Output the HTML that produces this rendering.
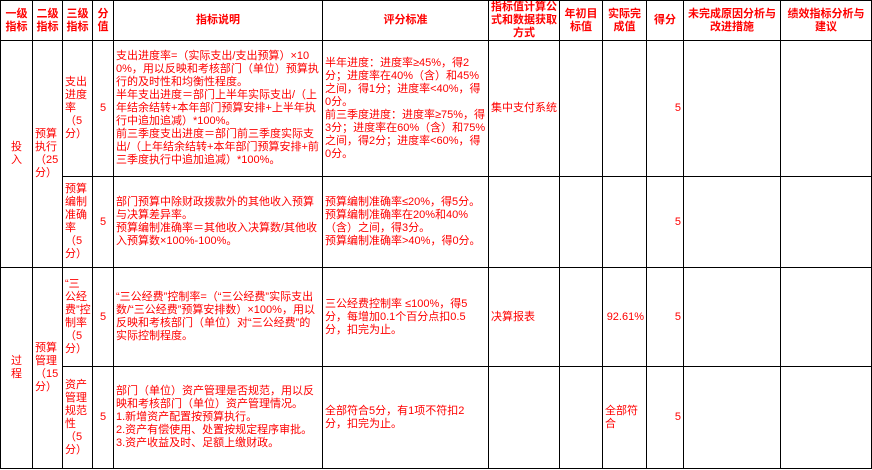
<!DOCTYPE html>
<html><head><meta charset="utf-8"><style>
body{margin:0;background:#fff;}
table{position:absolute;left:0;top:0;border-collapse:collapse;table-layout:fixed;width:871px;}
td{border:1.5px solid #000;padding:0 2px;color:#f00;font-family:"Liberation Sans","Noto Sans CJK SC",sans-serif;font-size:11px;line-height:13px;vertical-align:middle;overflow:hidden;word-break:break-all;}
tr.h td{font-weight:bold;text-align:center;font-size:11px;line-height:13px;}
.c{text-align:center}.r{text-align:right}
.n{width:12px;margin:0 auto;}
</style></head><body>
<table>
<colgroup><col style="width:32px"><col style="width:30px"><col style="width:30px"><col style="width:21px"><col style="width:209px"><col style="width:166px"><col style="width:71px"><col style="width:43px"><col style="width:44px"><col style="width:37px"><col style="width:97px"><col style="width:91px"></colgroup>
<tr class="h" style="height:40px"><td>一级指标</td><td>二级指标</td><td>三级指标</td><td>分值</td><td>指标说明</td><td>评分标准</td><td>指标值计算公式和数据获取方式</td><td>年初目标值</td><td>实际完成值</td><td>得分</td><td>未完成原因分析与改进措施</td><td>绩效指标分析与建议</td></tr>
<tr style="height:136px"><td class="c" rowspan="2"><div class="n">投入</div></td><td rowspan="2">预算执行（25分）</td><td>支出进度率（5分）</td><td class="c">5</td><td>支出进度率=（实际支出/支出预算）×100%，用以反映和考核部门（单位）预算执行的及时性和均衡性程度。<br>半年支出进度＝部门上半年实际支出/（上年结余结转+本年部门预算安排+上半年执行中追加追减）*100%。<br>前三季度支出进度＝部门前三季度实际支出/（上年结余结转+本年部门预算安排+前三季度执行中追加追减）*100%。</td><td>半年进度：进度率≥45%，得2分；进度率在40%（含）和45%之间，得1分；进度率&lt;40%，得0分。<br>前三季度进度：进度率≥75%，得3分；进度率在60%（含）和75%之间，得2分；进度率&lt;60%，得0分。</td><td>集中支付系统</td><td></td><td></td><td class="r">5</td><td></td><td></td></tr>
<tr style="height:91px"><td>预算编制准确率（5分）</td><td class="c">5</td><td>部门预算中除财政拨款外的其他收入预算与决算差异率。<br>预算编制准确率＝其他收入决算数/其他收入预算数×100%-100%。</td><td>预算编制准确率≤20%，得5分。<br>预算编制准确率在20%和40%（含）之间，得3分。<br>预算编制准确率&gt;40%，得0分。</td><td></td><td></td><td></td><td class="r">5</td><td></td><td></td></tr>
<tr style="height:99px"><td class="c" rowspan="2"><div class="n">过程</div></td><td rowspan="2">预算管理（15分）</td><td>“三公经费”控制率（5分）</td><td class="c">5</td><td>“三公经费”控制率=（“三公经费”实际支出数/“三公经费”预算安排数）×100%，用以反映和考核部门（单位）对“三公经费”的实际控制程度。</td><td>三公经费控制率 ≤100%，得5分，每增加0.1个百分点扣0.5分，扣完为止。</td><td>决算报表</td><td></td><td class="r">92.61%</td><td class="r">5</td><td></td><td></td></tr>
<tr style="height:102px"><td>资产管理规范性（5分）</td><td class="c">5</td><td>部门（单位）资产管理是否规范，用以反映和考核部门（单位）资产管理情况。<br>1.新增资产配置按预算执行。<br>2.资产有偿使用、处置按规定程序审批。<br>3.资产收益及时、足额上缴财政。</td><td>全部符合5分，有1项不符扣2分，扣完为止。</td><td></td><td></td><td>全部符合</td><td class="r">5</td><td></td><td></td></tr>
</table>
</body></html>
